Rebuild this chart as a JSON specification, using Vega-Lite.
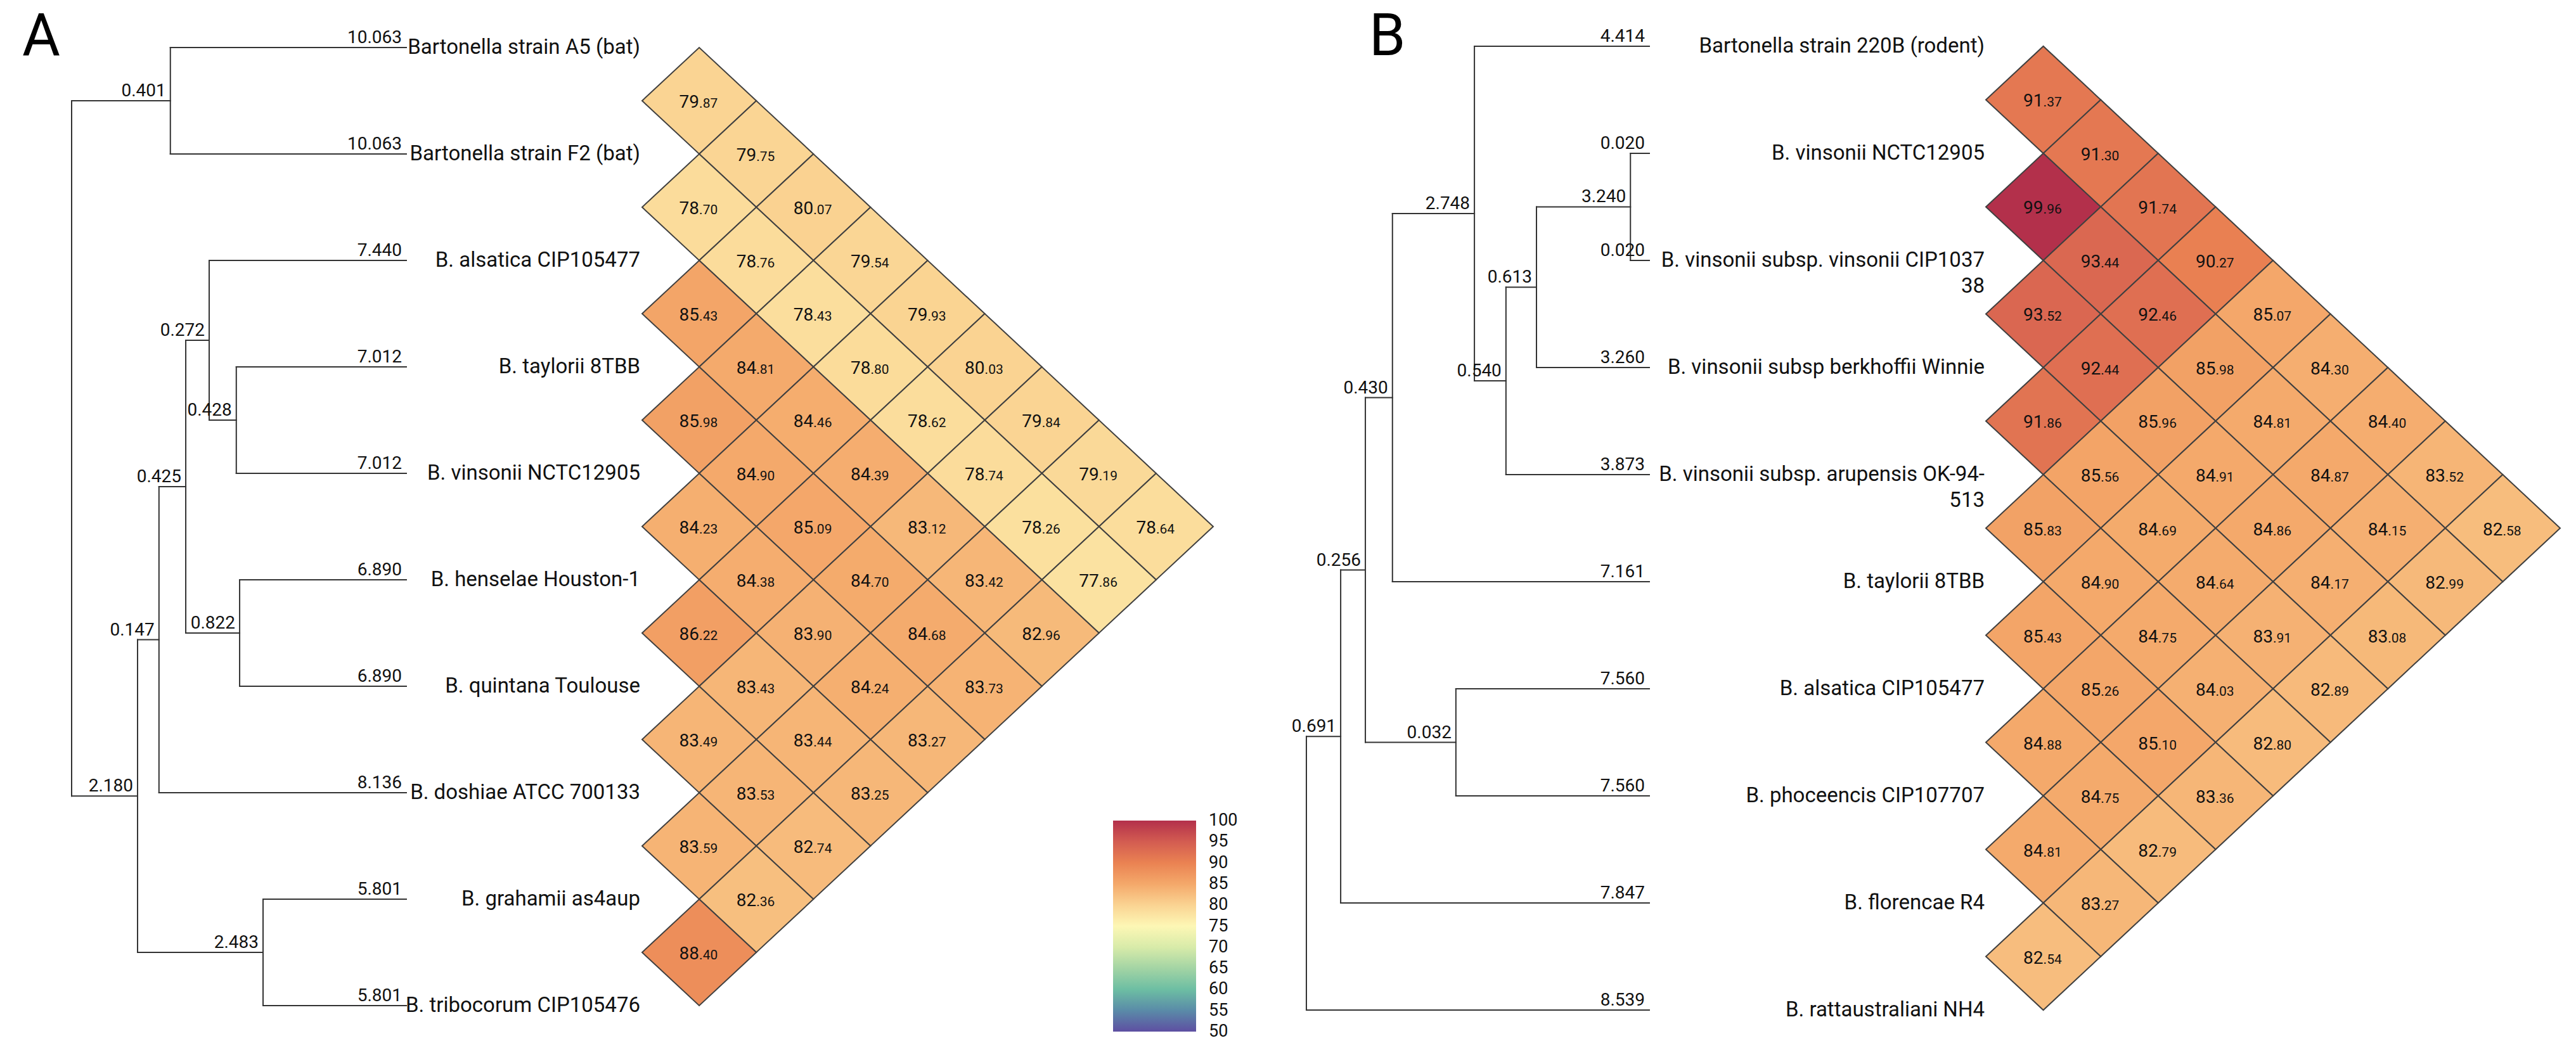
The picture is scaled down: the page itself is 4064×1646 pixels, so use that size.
{
  "$schema": "https://vega.github.io/schema/vega-lite/v6.json",
  "padding": 0,
  "background": "white",
  "spacing": 0,
  "bounds": "flush",
  "config": {"view": {"stroke": null}, "font": "Roboto"},
  "resolve": {"scale": {"x": "independent", "y": "independent", "color": "shared"}},
  "datasets": {
    "treeA": [
      {"x": 0.295, "x2": 1, "y": 0, "y2": 0, "len": "10.063"},
      {"x": 0.295, "x2": 1, "y": 1, "y2": 1, "len": "10.063"},
      {"x": 0, "x2": 0.295, "y": 0.5, "y2": 0.5, "len": "0.401"},
      {"x": 0.411, "x2": 1, "y": 2, "y2": 2, "len": "7.440"},
      {"x": 0.492, "x2": 1, "y": 3, "y2": 3, "len": "7.012"},
      {"x": 0.492, "x2": 1, "y": 4, "y2": 4, "len": "7.012"},
      {"x": 0.411, "x2": 0.492, "y": 3.5, "y2": 3.5, "len": "0.428"},
      {"x": 0.341, "x2": 0.411, "y": 2.75, "y2": 2.75, "len": "0.272"},
      {"x": 0.502, "x2": 1, "y": 5, "y2": 5, "len": "6.890"},
      {"x": 0.502, "x2": 1, "y": 6, "y2": 6, "len": "6.890"},
      {"x": 0.341, "x2": 0.502, "y": 5.5, "y2": 5.5, "len": "0.822"},
      {"x": 0.261, "x2": 0.341, "y": 4.125, "y2": 4.125, "len": "0.425"},
      {"x": 0.261, "x2": 1, "y": 7, "y2": 7, "len": "8.136"},
      {"x": 0.197, "x2": 0.261, "y": 5.5625, "y2": 5.5625, "len": "0.147"},
      {"x": 0.572, "x2": 1, "y": 8, "y2": 8, "len": "5.801"},
      {"x": 0.572, "x2": 1, "y": 9, "y2": 9, "len": "5.801"},
      {"x": 0.197, "x2": 0.572, "y": 8.5, "y2": 8.5, "len": "2.483"},
      {"x": 0, "x2": 0.197, "y": 7.03125, "y2": 7.03125, "len": "2.180"},
      {"x": 0.295, "x2": 0.295, "y": 0, "y2": 1, "len": null},
      {"x": 0.492, "x2": 0.492, "y": 3, "y2": 4, "len": null},
      {"x": 0.411, "x2": 0.411, "y": 2, "y2": 3.5, "len": null},
      {"x": 0.502, "x2": 0.502, "y": 5, "y2": 6, "len": null},
      {"x": 0.341, "x2": 0.341, "y": 2.75, "y2": 5.5, "len": null},
      {"x": 0.261, "x2": 0.261, "y": 4.125, "y2": 7, "len": null},
      {"x": 0.572, "x2": 0.572, "y": 8, "y2": 9, "len": null},
      {"x": 0.197, "x2": 0.197, "y": 5.5625, "y2": 8.5, "len": null},
      {"x": 0, "x2": 0, "y": 0.5, "y2": 7.03125, "len": null}
    ],
    "treeB": [
      {"x": 0.49, "x2": 1, "y": 0, "y2": 0, "len": "4.414"},
      {"x": 0.945, "x2": 1, "y": 1, "y2": 1, "len": "0.020"},
      {"x": 0.945, "x2": 1, "y": 2, "y2": 2, "len": "0.020"},
      {"x": 0.671, "x2": 0.945, "y": 1.5, "y2": 1.5, "len": "3.240"},
      {"x": 0.671, "x2": 1, "y": 3, "y2": 3, "len": "3.260"},
      {"x": 0.582, "x2": 0.671, "y": 2.25, "y2": 2.25, "len": "0.613"},
      {"x": 0.582, "x2": 1, "y": 4, "y2": 4, "len": "3.873"},
      {"x": 0.49, "x2": 0.582, "y": 3.125, "y2": 3.125, "len": "0.540"},
      {"x": 0.251, "x2": 0.49, "y": 1.5625, "y2": 1.5625, "len": "2.748"},
      {"x": 0.251, "x2": 1, "y": 5, "y2": 5, "len": "7.161"},
      {"x": 0.172, "x2": 0.251, "y": 3.28125, "y2": 3.28125, "len": "0.430"},
      {"x": 0.436, "x2": 1, "y": 6, "y2": 6, "len": "7.560"},
      {"x": 0.436, "x2": 1, "y": 7, "y2": 7, "len": "7.560"},
      {"x": 0.172, "x2": 0.436, "y": 6.5, "y2": 6.5, "len": "0.032"},
      {"x": 0.1, "x2": 0.172, "y": 4.890625, "y2": 4.890625, "len": "0.256"},
      {"x": 0.1, "x2": 1, "y": 8, "y2": 8, "len": "7.847"},
      {"x": 0, "x2": 0.1, "y": 6.4453, "y2": 6.4453, "len": "0.691"},
      {"x": 0, "x2": 1, "y": 9, "y2": 9, "len": "8.539"},
      {"x": 0.945, "x2": 0.945, "y": 1, "y2": 2, "len": null},
      {"x": 0.671, "x2": 0.671, "y": 1.5, "y2": 3, "len": null},
      {"x": 0.582, "x2": 0.582, "y": 2.25, "y2": 4, "len": null},
      {"x": 0.49, "x2": 0.49, "y": 0, "y2": 3.125, "len": null},
      {"x": 0.251, "x2": 0.251, "y": 1.5625, "y2": 5, "len": null},
      {"x": 0.436, "x2": 0.436, "y": 6, "y2": 7, "len": null},
      {"x": 0.172, "x2": 0.172, "y": 3.28125, "y2": 6.5, "len": null},
      {"x": 0.1, "x2": 0.1, "y": 4.890625, "y2": 8, "len": null},
      {"x": 0, "x2": 0, "y": 6.4453, "y2": 9, "len": null}
    ],
    "leavesA": [
      {"k": 0, "name": "Bartonella strain A5 (bat)"},
      {"k": 1, "name": "Bartonella strain F2 (bat)"},
      {"k": 2, "name": "B. alsatica CIP105477"},
      {"k": 3, "name": "B. taylorii 8TBB"},
      {"k": 4, "name": "B. vinsonii NCTC12905"},
      {"k": 5, "name": "B. henselae Houston-1"},
      {"k": 6, "name": "B. quintana Toulouse"},
      {"k": 7, "name": "B. doshiae ATCC 700133"},
      {"k": 8, "name": "B. grahamii as4aup"},
      {"k": 9, "name": "B. tribocorum CIP105476"}
    ],
    "leavesB": [
      {"k": 0, "name": "Bartonella strain 220B (rodent)"},
      {"k": 1, "name": "B. vinsonii NCTC12905"},
      {"k": 2, "name": "B. vinsonii subsp. vinsonii CIP1037\n38"},
      {"k": 3, "name": "B. vinsonii subsp berkhoffii Winnie"},
      {"k": 4, "name": "B. vinsonii subsp. arupensis OK-94-\n513"},
      {"k": 5, "name": "B. taylorii 8TBB"},
      {"k": 6, "name": "B. alsatica CIP105477"},
      {"k": 7, "name": "B. phoceencis CIP107707"},
      {"k": 8, "name": "B. florencae R4"},
      {"k": 9, "name": "B. rattaustraliani NH4"}
    ],
    "cellsA": [
      {"i": 0, "j": 1, "v": 79.87}, {"i": 0, "j": 2, "v": 79.75}, {"i": 1, "j": 2, "v": 78.70},
      {"i": 0, "j": 3, "v": 80.07}, {"i": 1, "j": 3, "v": 78.76}, {"i": 0, "j": 4, "v": 79.54},
      {"i": 2, "j": 3, "v": 85.43}, {"i": 1, "j": 4, "v": 78.43}, {"i": 0, "j": 5, "v": 79.93},
      {"i": 2, "j": 4, "v": 84.81}, {"i": 1, "j": 5, "v": 78.80}, {"i": 0, "j": 6, "v": 80.03},
      {"i": 3, "j": 4, "v": 85.98}, {"i": 2, "j": 5, "v": 84.46}, {"i": 1, "j": 6, "v": 78.62}, {"i": 0, "j": 7, "v": 79.84},
      {"i": 3, "j": 5, "v": 84.90}, {"i": 2, "j": 6, "v": 84.39}, {"i": 1, "j": 7, "v": 78.74}, {"i": 0, "j": 8, "v": 79.19},
      {"i": 4, "j": 5, "v": 84.23}, {"i": 3, "j": 6, "v": 85.09}, {"i": 2, "j": 7, "v": 83.12}, {"i": 1, "j": 8, "v": 78.26}, {"i": 0, "j": 9, "v": 78.64},
      {"i": 4, "j": 6, "v": 84.38}, {"i": 3, "j": 7, "v": 84.70}, {"i": 2, "j": 8, "v": 83.42}, {"i": 1, "j": 9, "v": 77.86},
      {"i": 5, "j": 6, "v": 86.22}, {"i": 4, "j": 7, "v": 83.90}, {"i": 3, "j": 8, "v": 84.68}, {"i": 2, "j": 9, "v": 82.96},
      {"i": 5, "j": 7, "v": 83.43}, {"i": 4, "j": 8, "v": 84.24}, {"i": 3, "j": 9, "v": 83.73},
      {"i": 6, "j": 7, "v": 83.49}, {"i": 5, "j": 8, "v": 83.44}, {"i": 4, "j": 9, "v": 83.27},
      {"i": 6, "j": 8, "v": 83.53}, {"i": 5, "j": 9, "v": 83.25},
      {"i": 7, "j": 8, "v": 83.59}, {"i": 6, "j": 9, "v": 82.74},
      {"i": 7, "j": 9, "v": 82.36},
      {"i": 8, "j": 9, "v": 88.40}
    ],
    "cellsB": [
      {"i": 0, "j": 1, "v": 91.37}, {"i": 0, "j": 2, "v": 91.30}, {"i": 1, "j": 2, "v": 99.96},
      {"i": 0, "j": 3, "v": 91.74}, {"i": 1, "j": 3, "v": 93.44}, {"i": 0, "j": 4, "v": 90.27},
      {"i": 2, "j": 3, "v": 93.52}, {"i": 1, "j": 4, "v": 92.46}, {"i": 0, "j": 5, "v": 85.07},
      {"i": 2, "j": 4, "v": 92.44}, {"i": 1, "j": 5, "v": 85.98}, {"i": 0, "j": 6, "v": 84.30},
      {"i": 3, "j": 4, "v": 91.86}, {"i": 2, "j": 5, "v": 85.96}, {"i": 1, "j": 6, "v": 84.81}, {"i": 0, "j": 7, "v": 84.40},
      {"i": 3, "j": 5, "v": 85.56}, {"i": 2, "j": 6, "v": 84.91}, {"i": 1, "j": 7, "v": 84.87}, {"i": 0, "j": 8, "v": 83.52},
      {"i": 4, "j": 5, "v": 85.83}, {"i": 3, "j": 6, "v": 84.69}, {"i": 2, "j": 7, "v": 84.86}, {"i": 1, "j": 8, "v": 84.15}, {"i": 0, "j": 9, "v": 82.58},
      {"i": 4, "j": 6, "v": 84.90}, {"i": 3, "j": 7, "v": 84.64}, {"i": 2, "j": 8, "v": 84.17}, {"i": 1, "j": 9, "v": 82.99},
      {"i": 5, "j": 6, "v": 85.43}, {"i": 4, "j": 7, "v": 84.75}, {"i": 3, "j": 8, "v": 83.91}, {"i": 2, "j": 9, "v": 83.08},
      {"i": 5, "j": 7, "v": 85.26}, {"i": 4, "j": 8, "v": 84.03}, {"i": 3, "j": 9, "v": 82.89},
      {"i": 6, "j": 7, "v": 84.88}, {"i": 5, "j": 8, "v": 85.10}, {"i": 4, "j": 9, "v": 82.80},
      {"i": 6, "j": 8, "v": 84.75}, {"i": 5, "j": 9, "v": 83.36},
      {"i": 7, "j": 8, "v": 84.81}, {"i": 6, "j": 9, "v": 82.79},
      {"i": 7, "j": 9, "v": 83.27},
      {"i": 8, "j": 9, "v": 82.54}
    ]
  },
  "hconcat": [
    {
      "width": 1013,
      "height": 1646,
      "layer": [
        {
          "data": {"name": "treeA"},
          "mark": {"type": "rule", "color": "#333333", "strokeWidth": 2, "strokeCap": "square"},
          "encoding": {
            "x": {"field": "x", "type": "quantitative", "scale": {"domain": [-0.21402, 1.70455], "nice": false, "zero": false}, "axis": null},
            "x2": {"field": "x2"},
            "y": {"field": "y", "type": "quantitative", "scale": {"domain": [-0.44643, 9.35119], "reverse": true, "nice": false, "zero": false}, "axis": null},
            "y2": {"field": "y2"}
          }
        },
        {
          "data": {"name": "treeA"},
          "transform": [{"filter": "isValid(datum.len)"}],
          "mark": {"type": "text", "align": "right", "baseline": "alphabetic", "dx": -7, "dy": -7, "fontSize": 28, "font": "Roboto", "color": "#111111"},
          "encoding": {
            "x": {"field": "x2", "type": "quantitative"},
            "y": {"field": "y", "type": "quantitative"},
            "text": {"field": "len", "type": "nominal"}
          }
        },
        {
          "data": {"values": [{"t": "A", "px": -0.1477, "py": 0.0714}]},
          "mark": {"type": "text", "align": "left", "baseline": "alphabetic", "fontSize": 92, "font": "Roboto", "color": "#000000"},
          "encoding": {
            "x": {"field": "px", "type": "quantitative"},
            "y": {"field": "py", "type": "quantitative"},
            "text": {"field": "t", "type": "nominal"}
          }
        }
      ]
    },
    {
      "width": 987,
      "height": 1646,
      "layer": [
        {
          "data": {"name": "cellsA"},
          "transform": [
            {"calculate": "datum.j - datum.i", "as": "hx"},
            {"calculate": "(datum.i + datum.j) / 2", "as": "hy"}
          ],
          "mark": {"type": "point", "shape": "M-1,0L0,-0.932L1,0L0,0.932Z", "size": 32472, "filled": true, "opacity": 1, "stroke": "#404040", "strokeWidth": 2},
          "encoding": {
            "x": {"field": "hx", "type": "quantitative", "scale": {"domain": [0, 10.9545], "nice": false, "zero": false}, "axis": null},
            "y": {"field": "hy", "type": "quantitative", "scale": {"domain": [-0.44643, 9.35119], "reverse": true, "nice": false, "zero": false}, "axis": null},
            "color": {
              "field": "v", "type": "quantitative",
              "scale": {"domain": [50, 55, 60, 65, 70, 75, 80, 85, 90, 95, 100], "range": ["#5e4fa2", "#5a8ba8", "#6dbea3", "#a3d4a4", "#d8eba9", "#fdf7b5", "#fad392", "#f4a86a", "#ea8252", "#d35c51", "#b3304b"], "interpolate": "rgb"},
              "legend": {"title": null, "orient": "none", "legendX": 1756, "legendY": 1295, "direction": "vertical", "gradientLength": 333, "gradientThickness": 131, "gradientStrokeWidth": 0, "values": [50.0001, 55, 60, 65, 70, 75, 80, 85, 90, 95, 99.9999], "labelExpr": "datum.value < 99 ? '\u2007' + format(round(datum.value), 'd') : format(round(datum.value), 'd')", "labelFontSize": 27, "labelFont": "Roboto", "labelColor": "#111111", "labelOffset": 20, "labelOverlap": false}
            }
          }
        },
        {
          "data": {"name": "cellsA"},
          "transform": [
            {"calculate": "datum.j - datum.i", "as": "hx"},
            {"calculate": "(datum.i + datum.j) / 2", "as": "hy"},
            {"calculate": "slice(format(datum.v, '.2f'), 0, -3)", "as": "ip"}
          ],
          "mark": {"type": "text", "align": "right", "baseline": "alphabetic", "dy": 11, "fontSize": 28, "font": "Roboto", "color": "#111111"},
          "encoding": {
            "x": {"field": "hx", "type": "quantitative"},
            "y": {"field": "hy", "type": "quantitative"},
            "text": {"field": "ip", "type": "nominal"}
          }
        },
        {
          "data": {"name": "cellsA"},
          "transform": [
            {"calculate": "datum.j - datum.i", "as": "hx"},
            {"calculate": "(datum.i + datum.j) / 2", "as": "hy"},
            {"calculate": "slice(format(datum.v, '.2f'), -3)", "as": "dp"}
          ],
          "mark": {"type": "text", "align": "left", "baseline": "alphabetic", "dy": 11, "fontSize": 21, "font": "Roboto", "color": "#111111"},
          "encoding": {
            "x": {"field": "hx", "type": "quantitative"},
            "y": {"field": "hy", "type": "quantitative"},
            "text": {"field": "dp", "type": "nominal"}
          }
        },
        {
          "data": {"name": "leavesA"},
          "transform": [{"calculate": "0", "as": "lx"}],
          "mark": {"type": "text", "align": "right", "baseline": "middle", "dx": -3, "fontSize": 33, "font": "Roboto", "color": "#111111", "lineBreak": "\n", "lineHeight": 41},
          "encoding": {
            "x": {"field": "lx", "type": "quantitative"},
            "y": {"field": "k", "type": "quantitative"},
            "text": {"field": "name", "type": "nominal"}
          }
        }
      ]
    },
    {
      "width": 1133,
      "height": 1646,
      "layer": [
        {
          "data": {"name": "treeB"},
          "mark": {"type": "rule", "color": "#333333", "strokeWidth": 2, "strokeCap": "square"},
          "encoding": {
            "x": {"field": "x", "type": "quantitative", "scale": {"domain": [-0.11275, 1.98152], "nice": false, "zero": false}, "axis": null},
            "x2": {"field": "x2"},
            "y": {"field": "y", "type": "quantitative", "scale": {"domain": [-0.43195, 9.30769], "reverse": true, "nice": false, "zero": false}, "axis": null},
            "y2": {"field": "y2"}
          }
        },
        {
          "data": {"name": "treeB"},
          "transform": [{"filter": "isValid(datum.len)"}],
          "mark": {"type": "text", "align": "right", "baseline": "alphabetic", "dx": -7, "dy": -7, "fontSize": 28, "font": "Roboto", "color": "#111111"},
          "encoding": {
            "x": {"field": "x2", "type": "quantitative"},
            "y": {"field": "y", "type": "quantitative"},
            "text": {"field": "len", "type": "nominal"}
          }
        },
        {
          "data": {"values": [{"t": "B", "px": 0.183, "py": 0.0828}]},
          "mark": {"type": "text", "align": "left", "baseline": "alphabetic", "fontSize": 92, "font": "Roboto", "color": "#000000"},
          "encoding": {
            "x": {"field": "px", "type": "quantitative"},
            "y": {"field": "py", "type": "quantitative"},
            "text": {"field": "t", "type": "nominal"}
          }
        }
      ]
    },
    {
      "width": 931,
      "height": 1646,
      "layer": [
        {
          "data": {"name": "cellsB"},
          "transform": [
            {"calculate": "datum.j - datum.i", "as": "hx"},
            {"calculate": "(datum.i + datum.j) / 2", "as": "hy"}
          ],
          "mark": {"type": "point", "shape": "M-1,0L0,-0.933L1,0L0,0.933Z", "size": 32832, "filled": true, "opacity": 1, "stroke": "#404040", "strokeWidth": 2},
          "encoding": {
            "x": {"field": "hx", "type": "quantitative", "scale": {"domain": [0, 10.2759], "nice": false, "zero": false}, "axis": null},
            "y": {"field": "hy", "type": "quantitative", "scale": {"domain": [-0.43195, 9.30769], "reverse": true, "nice": false, "zero": false}, "axis": null},
            "color": {
              "field": "v", "type": "quantitative",
              "scale": {"domain": [50, 55, 60, 65, 70, 75, 80, 85, 90, 95, 100], "range": ["#5e4fa2", "#5a8ba8", "#6dbea3", "#a3d4a4", "#d8eba9", "#fdf7b5", "#fad392", "#f4a86a", "#ea8252", "#d35c51", "#b3304b"], "interpolate": "rgb"},
              "legend": {"title": null, "orient": "none", "legendX": 1756, "legendY": 1295, "direction": "vertical", "gradientLength": 333, "gradientThickness": 131, "gradientStrokeWidth": 0, "values": [50.0001, 55, 60, 65, 70, 75, 80, 85, 90, 95, 99.9999], "labelExpr": "datum.value < 99 ? '\u2007' + format(round(datum.value), 'd') : format(round(datum.value), 'd')", "labelFontSize": 27, "labelFont": "Roboto", "labelColor": "#111111", "labelOffset": 20, "labelOverlap": false}
            }
          }
        },
        {
          "data": {"name": "cellsB"},
          "transform": [
            {"calculate": "datum.j - datum.i", "as": "hx"},
            {"calculate": "(datum.i + datum.j) / 2", "as": "hy"},
            {"calculate": "slice(format(datum.v, '.2f'), 0, -3)", "as": "ip"}
          ],
          "mark": {"type": "text", "align": "right", "baseline": "alphabetic", "dy": 11, "fontSize": 28, "font": "Roboto", "color": "#111111"},
          "encoding": {
            "x": {"field": "hx", "type": "quantitative"},
            "y": {"field": "hy", "type": "quantitative"},
            "text": {"field": "ip", "type": "nominal"}
          }
        },
        {
          "data": {"name": "cellsB"},
          "transform": [
            {"calculate": "datum.j - datum.i", "as": "hx"},
            {"calculate": "(datum.i + datum.j) / 2", "as": "hy"},
            {"calculate": "slice(format(datum.v, '.2f'), -3)", "as": "dp"}
          ],
          "mark": {"type": "text", "align": "left", "baseline": "alphabetic", "dy": 11, "fontSize": 21, "font": "Roboto", "color": "#111111"},
          "encoding": {
            "x": {"field": "hx", "type": "quantitative"},
            "y": {"field": "hy", "type": "quantitative"},
            "text": {"field": "dp", "type": "nominal"}
          }
        },
        {
          "data": {"name": "leavesB"},
          "transform": [{"calculate": "0", "as": "lx"}],
          "mark": {"type": "text", "align": "right", "baseline": "middle", "dx": -2, "fontSize": 33, "font": "Roboto", "color": "#111111", "lineBreak": "\n", "lineHeight": 41},
          "encoding": {
            "x": {"field": "lx", "type": "quantitative"},
            "y": {"field": "k", "type": "quantitative"},
            "text": {"field": "name", "type": "nominal"}
          }
        }
      ]
    }
  ]
}
